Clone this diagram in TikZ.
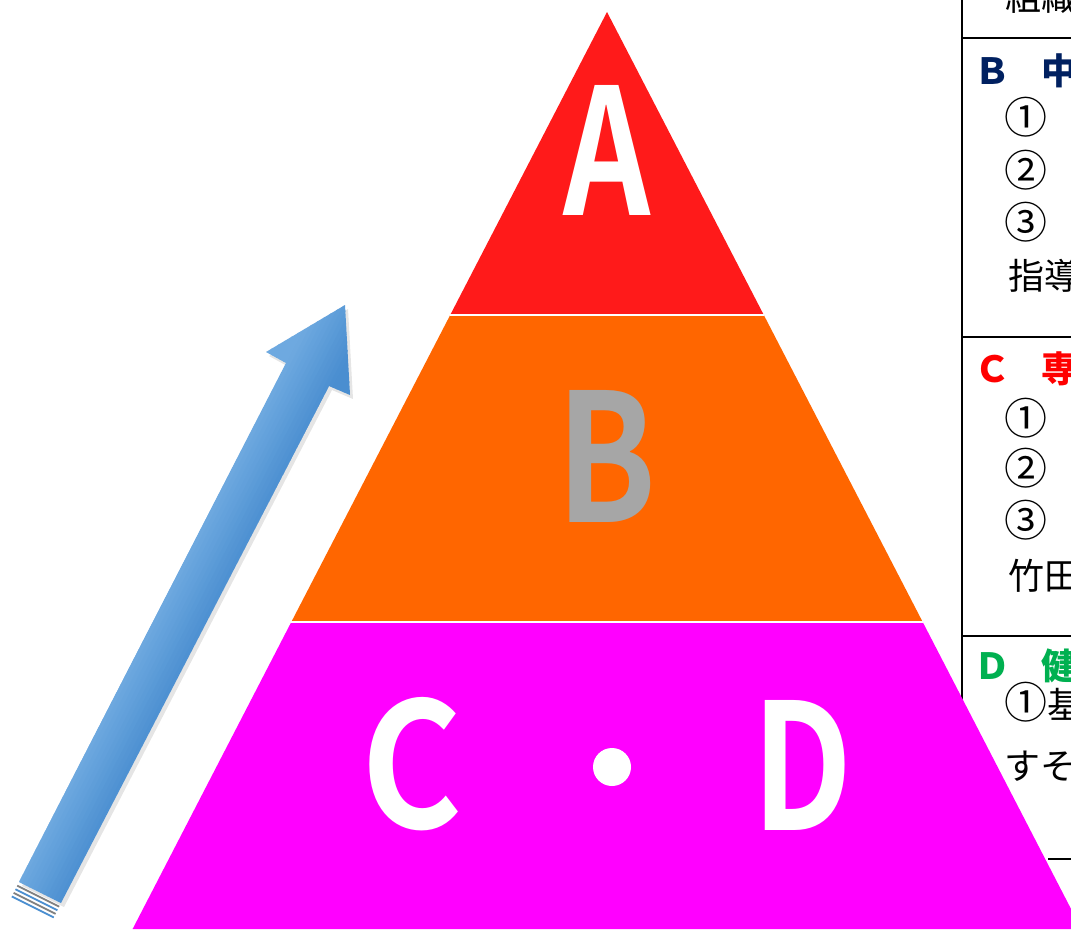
\documentclass[tikz,border=0pt]{standalone}
\usepackage{fontspec}
\setmainfont{Noto Sans CJK JP}
\newfontfamily\bigfont{Noto Sans CJK JP Bold}
\usetikzlibrary{calc}
\definecolor{pyrred}{HTML}{FF1A1A}
\definecolor{pyrorange}{HTML}{FF6600}
\definecolor{pyrmag}{HTML}{FF00FF}
\definecolor{lettergray}{HTML}{A6A6A6}
\definecolor{hdblue}{HTML}{002060}
\definecolor{hdred}{HTML}{FF0000}
\definecolor{hdgreen}{HTML}{00B050}
\definecolor{arrowlight}{HTML}{6EA9E0}
\definecolor{arrowdark}{HTML}{4A8ED0}
\newcommand{\cdig}[1]{{\fontsize{43}{45}\selectfont #1}}
\newcommand{\hdtxt}[2]{\textbf{#1}\kern-5pt　\textbf{#2}}
\tikzset{
  tabline/.style={black, line width=2.4pt},
  rtxt/.style={anchor=base west, inner sep=0pt, font=\fontsize{36}{40}\selectfont},
  bigletter/.style={inner sep=0pt},
  sepline/.style={white, line width=2.4pt}
}
\begin{document}
\begin{tikzpicture}[x=1pt,y=-1pt]
\useasboundingbox (0,0) rectangle (1071,930);
\clip (0,0) rectangle (1071,930);
\fill[white] (0,0) rectangle (1071,930);
% ---- table on the right ----
\draw[tabline] (962,-5) -- (962,900);
\draw[tabline] (962,38) -- (1080,38);
\draw[tabline] (962,337) -- (1080,337);
\draw[tabline] (962,636) -- (1080,636);
\draw[tabline] (1048,859) -- (1080,859);
\node[rtxt] (t0) at (1005,10) {組織};
\node[rtxt, text=hdblue] (tB) at (974,84) {\hdtxt{Ｂ}{中}};
\node[rtxt] (tB1) at (1004,133) {\cdig{①}};
\node[rtxt] (tB2) at (1004,186) {\cdig{②}};
\node[rtxt] (tB3) at (1004,238) {\cdig{③}};
\node[rtxt] (tB4) at (1008,289) {指導};
\node[rtxt, text=hdred] (tC) at (974,382) {\hdtxt{Ｃ}{専}};
\node[rtxt] (tC1) at (1004,434) {\cdig{①}};
\node[rtxt] (tC2) at (1004,484) {\cdig{②}};
\node[rtxt] (tC3) at (1004,536) {\cdig{③}};
\node[rtxt] (tC4) at (1008,589) {竹田};
\node[rtxt, text=hdgreen] (tD) at (974,679) {\hdtxt{Ｄ}{健}};
\node[rtxt] (tD1) at (1004,718) {\cdig{①}基};
\node[rtxt] (tD2) at (1004,779) {すそ};
% ---- pyramid ----
\fill[pyrred] (607,12) -- (763.8,315) -- (450.2,315) -- cycle;
\fill[pyrorange] (450.2,315) -- (763.8,315) -- (922.7,622) -- (291.3,622) -- cycle;
\fill[pyrmag] (291.3,622) -- (922.7,622) -- (1081.4,929) -- (132.6,929) -- cycle;
\draw[sepline] (450.2,315) -- (763.8,315);
\draw[sepline] (291.3,622) -- (922.7,622);
\node[bigletter] (A) at (607,150) {\resizebox{87pt}{130pt}{\bigfont\color{white}A}};
\node[bigletter] (B) at (607,456) {\resizebox{100pt}{132pt}{\bigfont\color{lettergray}B}};
\node[bigletter] (C) at (412,764) {\resizebox{101pt}{131pt}{\bigfont\color{white}C}};
\node[bigletter] (D) at (803,765) {\resizebox{100pt}{130pt}{\bigfont\color{white}D}};
\fill[white] (612,767) circle (19);
% ---- blue arrow ----
\fill[black, opacity=0.10] (22,886) -- (289,367) -- (269,356) -- (348,309) -- (353,399) -- (332,390) -- (64,907) -- cycle;
\begin{scope}
\clip (19,882) -- (286,363) -- (266,352) -- (345,305) -- (350,395) -- (329,386) -- (61,903) -- cycle;
\foreach \s in {-52,-48,...,52}{
  \pgfmathsetmacro{\pct}{max(0,min(100,(26-\s)/52*100))}
  \fill[arrowlight!\pct!arrowdark]
    ($(40,892.5)+({\s*0.888},{\s*0.459})+(-9.18,17.76)$) --
    ($(40,892.5)+({\s*0.888},{\s*0.459})+(321.3,-621.6)$) --
    ($(40,892.5)+({(\s+4.6)*0.888},{(\s+4.6)*0.459})+(321.3,-621.6)$) --
    ($(40,892.5)+({(\s+4.6)*0.888},{(\s+4.6)*0.459})+(-9.18,17.76)$) -- cycle;
}
\end{scope}
\draw[gray, line width=1.8pt] (17.2,885.6) -- (59.2,906.6);
\draw[arrowdark, line width=1.8pt] (15.4,889.2) -- (57.4,910.2);
\draw[gray, line width=1.8pt] (13.6,892.8) -- (55.6,913.8);
\draw[arrowdark, line width=1.8pt] (11.8,896.4) -- (53.8,917.4);
\end{tikzpicture}
\end{document}
